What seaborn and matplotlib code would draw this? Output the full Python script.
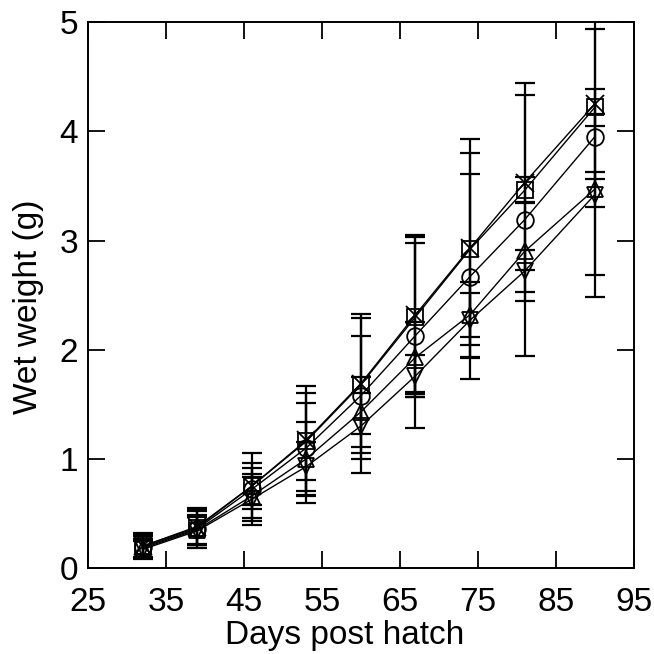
import matplotlib
matplotlib.use("Agg")
import matplotlib.pyplot as plt
import seaborn as sns
import numpy as np

days = [32, 39, 46, 53, 60, 67, 74, 81, 90]

cross_mean = [0.20, 0.38, 0.75, 1.17, 1.69, 2.32, 2.93, 3.53, 4.25]
cross_err = [0.12, 0.17, 0.21, 0.50, 0.64, 0.73, 1.00, 0.80, 0.69]

square_mean = [0.20, 0.37, 0.75, 1.16, 1.68, 2.30, 2.92, 3.46, 4.22]
square_err = [0.10, 0.15, 0.17, 0.35, 0.45, 0.73, 0.88, 0.12, 0.17]

circle_mean = [0.19, 0.36, 0.72, 1.10, 1.58, 2.13, 2.67, 3.19, 3.95]
circle_err = [0.10, 0.18, 0.33, 0.50, 0.71, 0.85, 0.94, 1.25, 1.47]

up_mean = [0.18, 0.35, 0.66, 1.00, 1.43, 1.93, 2.32, 2.90, 3.47]
up_err = [0.09, 0.14, 0.20, 0.34, 0.32, 0.32, 0.20, 0.45, 0.16]

down_mean = [0.17, 0.34, 0.63, 0.93, 1.30, 1.76, 2.27, 2.72, 3.42]
down_err = [0.08, 0.13, 0.20, 0.22, 0.30, 0.19, 0.35, 0.19, 0.74]

series = [
    (cross_mean, cross_err, "x"),
    (square_mean, square_err, "s"),
    (circle_mean, circle_err, "o"),
    (up_mean, up_err, "^"),
    (down_mean, down_err, "v"),
]

sns.set_style("ticks")
plt.rcParams["font.family"] = ["Liberation Sans", "DejaVu Sans"]
plt.rcParams["text.color"] = "black"
plt.rcParams["axes.labelcolor"] = "black"

fig = plt.figure(figsize=(6.54, 6.54), dpi=100)
ax = fig.add_axes([0.1346, 0.1315, 0.8344, 0.8345])

for mean, err, m in series:
    ax.errorbar(days, mean, yerr=err, fmt="none", ecolor="black",
                elinewidth=1.6, capsize=7, capthick=1.6, zorder=2)
    sns.lineplot(x=days, y=mean, ax=ax, color="black", linewidth=1.0,
                 marker=m, markersize=12 if m != "x" else 13,
                 markerfacecolor="none", markeredgecolor="black",
                 markeredgewidth=1.3, zorder=3)

ax.set_xlim(25, 95)
ax.set_ylim(0, 5)
ax.set_xticks(np.arange(25, 96, 10))
ax.set_yticks(np.arange(0, 6, 1))
ax.tick_params(direction="in", length=12, width=1.3, top=True, right=True,
               labelsize=24, colors="black")
ax.tick_params(axis="x", pad=14)
ax.tick_params(axis="y", pad=7)
for s in ax.spines.values():
    s.set_linewidth(1.4)
    s.set_color("black")
ax.set_xlabel("Days post hatch", fontsize=24, color="black")
ax.set_ylabel("Wet weight (g)", fontsize=24, color="black")
ax.xaxis.label.set_va("center")
ax.xaxis.set_label_coords(0.47, -0.123)
ax.yaxis.label.set_va("center")
ax.yaxis.set_label_coords(-0.11, 0.478)

fig.savefig("out.png", dpi=100)
